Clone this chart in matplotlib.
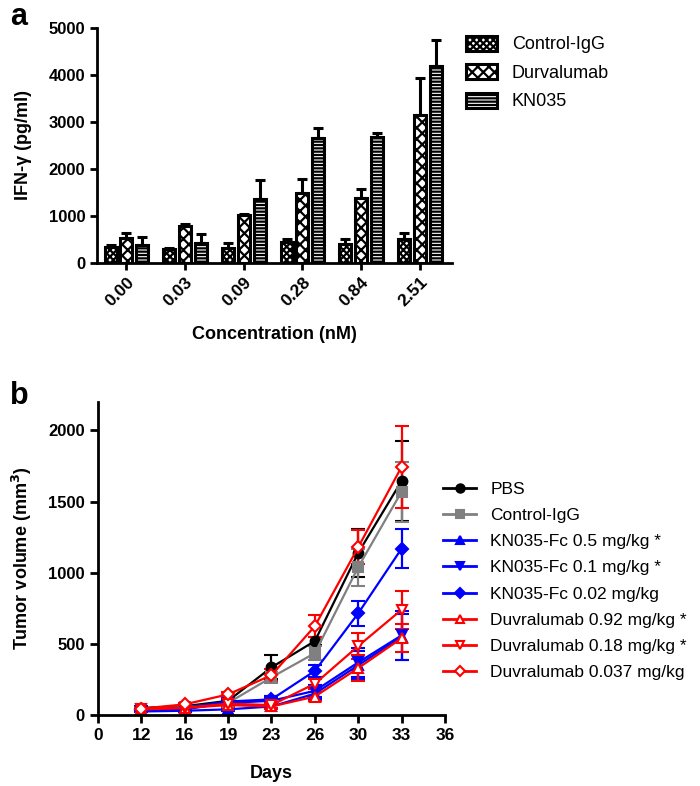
import matplotlib
matplotlib.use("Agg")
import matplotlib.pyplot as plt
from matplotlib.lines import Line2D
import numpy as np

plt.rcParams['font.family'] = ['Liberation Sans', 'DejaVu Sans']
plt.rcParams['hatch.linewidth'] = 1.6

# ---------- Panel a data ----------
conc_labels = ["0.00", "0.03", "0.09", "0.28", "0.84", "2.51"]
bar_series = ["Control-IgG", "Durvalumab", "KN035"]
ctrl_vals = [340, 300, 320, 450, 410, 500]
ctrl_err = [40, 20, 100, 60, 90, 140]
durva_vals = [530, 790, 1020, 1490, 1380, 3140]
durva_err = [110, 40, 30, 290, 200, 790]
kn_vals = [390, 420, 1370, 2650, 2690, 4200]
kn_err = [170, 200, 400, 220, 80, 540]
bar_hatches = ["xxxxx", "XXX", "-----"]

# ---------- Panel b data ----------
day_labels = ["0", "12", "16", "19", "23", "26", "30", "33", "36"]
day_index = [1, 2, 3, 4, 5, 6, 7]
line_series = ["PBS", "Control-IgG", "KN035-Fc 0.5 mg/kg *", "KN035-Fc 0.1 mg/kg *",
               "KN035-Fc 0.02 mg/kg", "Duvralumab 0.92 mg/kg *",
               "Duvralumab 0.18 mg/kg *", "Duvralumab 0.037 mg/kg"]
pbs = [50, 62, 100, 335, 520, 1140, 1645]
pbs_err = [10, 10, 20, 85, 30, 170, 280]
igg = [45, 55, 85, 265, 435, 1040, 1570]
igg_err = [10, 10, 15, 40, 50, 130, 210]
kn05 = [25, 30, 40, 60, 150, 350, 550]
kn05_err = [5, 8, 10, 20, 40, 100, 160]
kn01 = [30, 40, 85, 100, 170, 370, 560]
kn01_err = [5, 8, 15, 25, 40, 100, 170]
kn002 = [35, 50, 95, 110, 310, 715, 1170]
kn002_err = [8, 10, 15, 25, 40, 90, 135]
du092 = [40, 50, 70, 60, 130, 330, 540]
du092_err = [8, 10, 15, 20, 30, 90, 100]
du018 = [40, 50, 80, 70, 220, 485, 740]
du018_err = [8, 10, 15, 20, 35, 90, 135]
du0037 = [45, 75, 145, 280, 625, 1180, 1745]
du0037_err = [8, 12, 20, 40, 80, 120, 290]

fig = plt.figure(figsize=(7.0, 7.86), dpi=100)

# ---------- Panel a ----------
ax1 = fig.add_axes([0.1386, 0.6654, 0.5071, 0.299])
x = np.arange(len(conc_labels))
w = 0.205
step = 0.27
bar_handles = []
for i, (vals, errs, h, name) in enumerate(zip([ctrl_vals, durva_vals, kn_vals],
                                               [ctrl_err, durva_err, kn_err],
                                               bar_hatches, bar_series)):
    pos = x + (i - 1) * step
    b = ax1.bar(pos, vals, width=w, color="white", edgecolor="black", linewidth=2.2,
                hatch=h, label=name, zorder=2)
    bar_handles.append(b)
    ax1.errorbar(pos, vals, yerr=[np.zeros(len(vals)), errs], fmt="none",
                 ecolor="black", elinewidth=2.2, capsize=3.5, capthick=2.2, zorder=3)
ax1.set_xlim(-0.5, 5.55)
ax1.set_ylim(0, 5000)
ax1.set_yticks([0, 1000, 2000, 3000, 4000, 5000])
ax1.set_xticks(x)
ax1.set_xticklabels(conc_labels, rotation=45, ha="right", rotation_mode="anchor",
                    fontweight="bold", fontsize=12.5)
for lab in ax1.get_yticklabels():
    lab.set_fontweight("bold")
    lab.set_fontsize(12)
ax1.spines["top"].set_visible(False)
ax1.spines["right"].set_visible(False)
ax1.spines["left"].set_linewidth(2)
ax1.spines["bottom"].set_linewidth(2)
ax1.tick_params(width=2, length=5, direction="out")
ax1.set_ylabel("IFN-γ (pg/ml)", fontsize=13, fontweight="bold", labelpad=12)
ax1.set_xlabel("Concentration (nM)", fontsize=13, fontweight="bold", labelpad=12)
fig.legend(bar_handles, bar_series, loc="upper left",
           bbox_to_anchor=(462 / 700, 1 - 32 / 786), frameon=False,
           fontsize=13, handlelength=1.75, handleheight=0.9, labelspacing=0.6,
           handletextpad=0.8, borderaxespad=0, borderpad=0.2)

# ---------- Panel b ----------
ax2 = fig.add_axes([0.14, 0.0903, 0.4957, 0.3982])
styles = [
    (pbs, pbs_err, "black", "o", "black"),
    (igg, igg_err, "#808080", "s", "#808080"),
    (kn05, kn05_err, "blue", "^", "blue"),
    (kn01, kn01_err, "blue", "v", "blue"),
    (kn002, kn002_err, "blue", "D", "blue"),
    (du092, du092_err, "red", "^", "white"),
    (du018, du018_err, "red", "v", "white"),
    (du0037, du0037_err, "red", "D", "white"),
]
handles = []
for (vals, errs, c, m, fc), name in zip(styles, line_series):
    ms = 7 if m != "D" else 6
    ax2.errorbar(day_index, vals, yerr=errs, color=c, marker=m, markersize=ms,
                 markerfacecolor=fc, markeredgecolor=c, markeredgewidth=1.5,
                 linewidth=1.6, elinewidth=1.6, capsize=5, capthick=1.6)
    handles.append(Line2D([], [], color=c, marker=m, markersize=ms - 1,
                          markerfacecolor=fc, markeredgecolor=c,
                          markeredgewidth=1.5, linewidth=2, label=name))
ax2.set_xlim(0, 8)
ax2.set_ylim(0, 2200)
ax2.set_xticks(range(len(day_labels)))
ax2.set_xticklabels(day_labels, fontweight="bold", fontsize=12.5)
ax2.set_yticks([0, 500, 1000, 1500, 2000])
for lab in ax2.get_yticklabels():
    lab.set_fontweight("bold")
    lab.set_fontsize(12)
ax2.spines["top"].set_visible(False)
ax2.spines["right"].set_visible(False)
ax2.spines["left"].set_linewidth(2)
ax2.spines["bottom"].set_linewidth(2)
ax2.tick_params(width=2, length=6, direction="out")
ax2.set_ylabel("Tumor volume (mm$^\\mathbf{3}$)", fontsize=13, fontweight="bold", labelpad=10)
ax2.set_xlabel("Days", fontsize=13, fontweight="bold", labelpad=16)
fig.legend(handles=handles, loc="upper left",
           bbox_to_anchor=(440 / 700, 1 - 478 / 786), frameon=False,
           fontsize=12.5, handlelength=1.9, labelspacing=0.64, handletextpad=0.8,
           borderaxespad=0, borderpad=0.2)

fig.text(0.015, 0.998, "a", fontsize=22, fontweight="bold", va="top")
fig.text(0.015, 0.515, "b", fontsize=22, fontweight="bold", va="top")

fig.savefig("out.png", dpi=100)
